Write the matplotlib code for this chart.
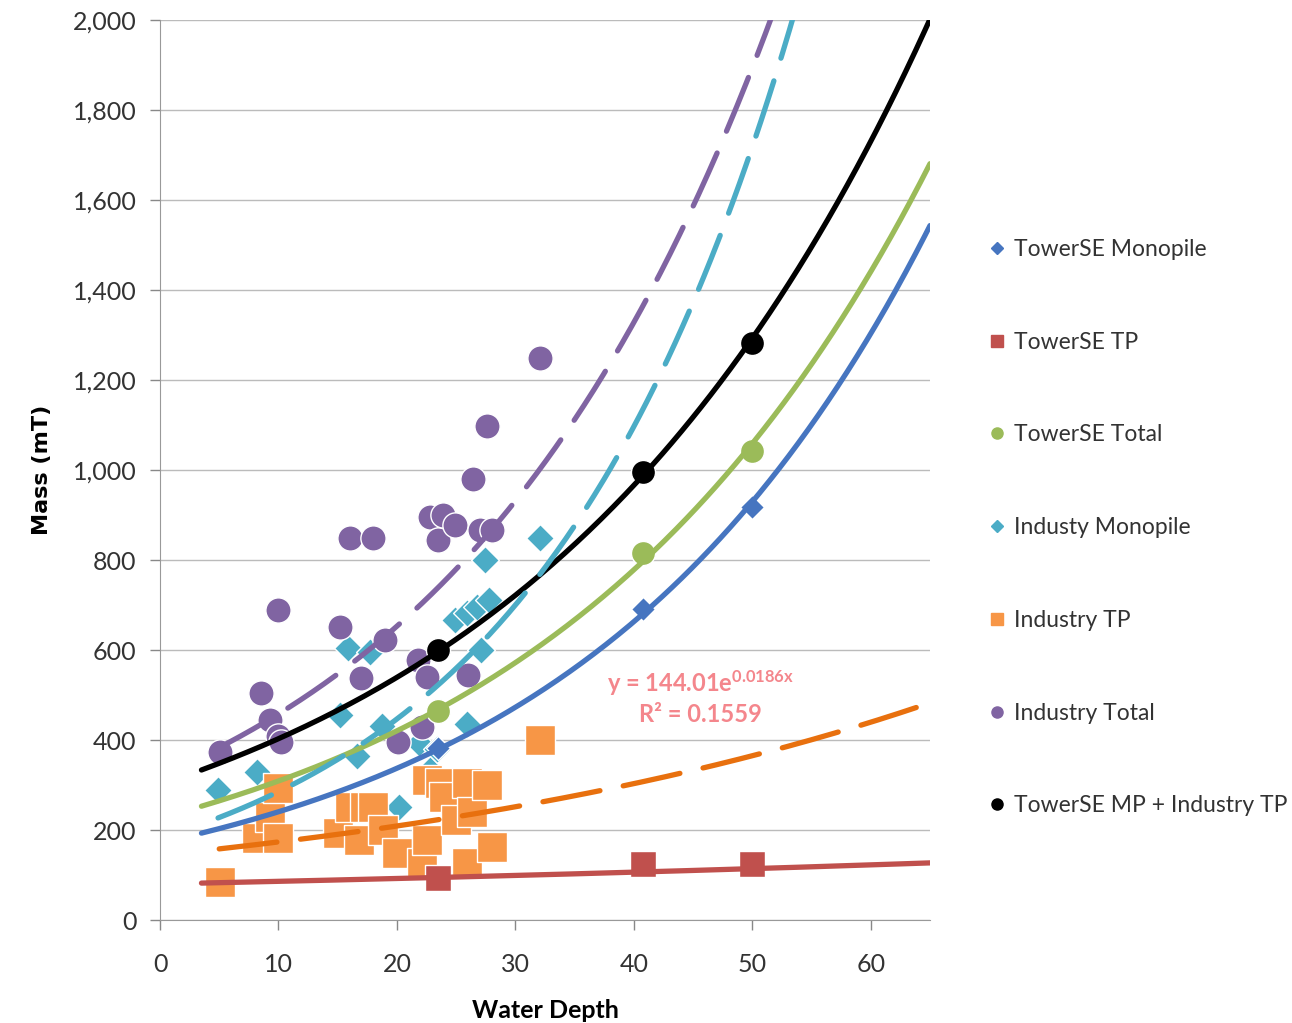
import numpy as np
import matplotlib
matplotlib.use('Agg')
import matplotlib.pyplot as plt
from matplotlib.ticker import FuncFormatter

plt.rcParams['font.family'] = ['Lato', 'DejaVu Sans']
plt.rcParams['mathtext.fontset'] = 'custom'
plt.rcParams['mathtext.rm'] = 'Lato'
plt.rcParams['mathtext.default'] = 'regular'

# TowerSE model results
towerse_depth = [23.5, 40.8, 50.0]
towerse_mp = [382, 691, 918]
towerse_tp = [93, 124, 124]
towerse_total = [464, 816, 1042]
towerse_mp_ind_tp = [600, 996, 1282]

# industry data
ind_mp_depth = [4.9, 8.2, 15.2, 15.9, 16.6, 17.7, 18.7, 20.2, 21.9, 22.8,
                23.4, 24.9, 25.9, 25.9, 26.8, 27.1, 27.4, 27.8, 32.1]
ind_mp_mass = [289, 330, 456, 605, 365, 596, 431, 251, 393, 333,
               380, 667, 682, 435, 696, 600, 800, 711, 849]

ind_tp_depth = [5.1, 8.2, 9.3, 10.0, 10.0, 15.0, 16.0, 16.8, 17.3, 18.0,
                18.8, 20.0, 22.1, 22.5, 22.5, 23.6, 24.0, 25.0, 25.9, 25.9,
                26.3, 27.6, 28.0, 32.1]
ind_tp_mass = [84, 182, 229, 293, 182, 193, 251, 178, 251, 251,
               200, 149, 127, 178, 311, 304, 273, 222, 304, 127,
               240, 300, 162, 400]

ind_total_depth = [5.1, 8.5, 9.3, 10.0, 10.2, 10.0, 15.2, 16.0, 18.0, 17.0,
                   19.0, 20.1, 21.8, 22.1, 22.5, 22.8, 23.5, 23.9, 24.9, 26.0,
                   26.4, 27.0, 27.6, 28.0, 32.1]
ind_total_mass = [373, 504, 444, 410, 395, 689, 651, 849, 849, 538,
                  622, 396, 578, 429, 540, 896, 844, 900, 878, 544,
                  980, 867, 1098, 867, 1249]

# exponential trendlines y = a*exp(b*x): (a, b, x_start, x_end)
trend_towerse_mp = (171.5, 0.0338, 3.5, 65)
trend_towerse_tp = (80.0, 0.0071, 3.5, 65)
trend_towerse_total = (227.0, 0.0308, 3.5, 65)
trend_mp_ind_tp = (301.0, 0.02915, 3.5, 65)
trend_ind_mp = (182.0, 0.0449, 4.9, 65)
trend_ind_tp = (144.01, 0.0186, 5.0, 65)
trend_ind_total = (321.0, 0.0355, 4.8, 65)

C_BLUE = '#4675C0'
C_RED = '#C0504D'
C_GREEN = '#9BBB59'
C_CYAN = '#4BACC6'
C_ORANGE = '#F79646'
C_ORANGE_DARK = '#E8700E'
C_PURPLE = '#8064A2'

fig = plt.figure(figsize=(12.92, 10.23), dpi=100)
ax = fig.add_axes([160 / 1292, 1 - 920 / 1023, 770 / 1292, 900 / 1023])

ax.scatter(ind_mp_depth, ind_mp_mass, marker='D', s=200, color=C_CYAN,
           edgecolors='white', linewidths=1, zorder=3)
ax.scatter(ind_tp_depth, ind_tp_mass, marker='s', s=440, color=C_ORANGE,
           edgecolors='white', linewidths=1, zorder=3)
ax.scatter(ind_total_depth, ind_total_mass, marker='o', s=330, color=C_PURPLE,
           edgecolors='white', linewidths=1, zorder=3)

ax.scatter(towerse_depth, towerse_mp, marker='D', s=150, color=C_BLUE,
           edgecolors='white', linewidths=1, zorder=4)
ax.scatter(towerse_depth, towerse_tp, marker='s', s=330, color=C_RED,
           edgecolors='white', linewidths=1, zorder=4)
ax.scatter(towerse_depth, towerse_total, marker='o', s=300, color=C_GREEN,
           edgecolors='white', linewidths=1, zorder=4)
ax.scatter(towerse_depth, towerse_mp_ind_tp, marker='o', s=300, color='black',
           edgecolors='white', linewidths=1, zorder=4)


def trend(params):
    a, b, x0, x1 = params
    xs = np.linspace(x0, x1, 300)
    return xs, a * np.exp(b * xs)


for params, col in [(trend_towerse_tp, C_RED), (trend_towerse_mp, C_BLUE),
                    (trend_towerse_total, C_GREEN), (trend_mp_ind_tp, 'black')]:
    xs, ys = trend(params)
    ax.plot(xs, ys, color=col, lw=3.8, solid_capstyle='round', zorder=5)

for params, col in [(trend_ind_tp, C_ORANGE_DARK), (trend_ind_mp, C_CYAN),
                    (trend_ind_total, C_PURPLE)]:
    xs, ys = trend(params)
    ax.plot(xs, ys, color=col, lw=3.8, dashes=(11, 4.5), dash_capstyle='round',
            zorder=5)

ax.text(45.6, 527, 'y = 144.01e$^{0.0186x}$', color='#F4868C', fontsize=17,
        fontweight='bold', ha='center', va='center', zorder=6)
ax.text(45.6, 456, 'R² = 0.1559', color='#F4868C', fontsize=17,
        fontweight='bold', ha='center', va='center', zorder=6)

ax.set_xlim(0, 65)
ax.set_ylim(0, 2000)
ax.set_xticks(range(0, 61, 10))
ax.set_yticks(range(0, 2001, 200))
ax.yaxis.set_major_formatter(FuncFormatter(lambda v, p: f'{int(v):,}'))
ax.tick_params(axis='both', labelsize=18, colors='#888888', labelcolor='#333333',
               length=7, width=1)
ax.tick_params(axis='x', pad=17)
ax.tick_params(axis='y', pad=10)
ax.grid(axis='y', color='#BBBBBB', lw=1)
ax.set_axisbelow(True)
for s in ['top', 'right']:
    ax.spines[s].set_visible(False)
for s in ['left', 'bottom']:
    ax.spines[s].set_color('#999999')

ax.set_xlabel('Water Depth', fontsize=18, fontweight='bold', labelpad=16)
ax.set_ylabel('Mass (mT)', fontsize=16, fontweight='bold',
              family=['Liberation Sans Narrow', 'DejaVu Sans'], labelpad=15)

handles = [
    plt.Line2D([], [], ls='', marker='D', ms=6, color=C_BLUE),
    plt.Line2D([], [], ls='', marker='s', ms=8, color=C_RED),
    plt.Line2D([], [], ls='', marker='o', ms=8, color=C_GREEN),
    plt.Line2D([], [], ls='', marker='D', ms=6, color=C_CYAN),
    plt.Line2D([], [], ls='', marker='s', ms=8, color=C_ORANGE),
    plt.Line2D([], [], ls='', marker='o', ms=8, color=C_PURPLE),
    plt.Line2D([], [], ls='', marker='o', ms=8, color='black'),
]
labels = ['TowerSE Monopile', 'TowerSE TP', 'TowerSE Total', 'Industy Monopile',
          'Industry TP', 'Industry Total', 'TowerSE MP + Industry TP']
fig.legend(handles, labels, loc='upper left', bbox_to_anchor=(990 / 1292, 1 - 239 / 1023),
           frameon=False, fontsize=16.5, labelspacing=3.13, handlelength=0.6,
           handletextpad=0.45, labelcolor='#333333', borderaxespad=0, borderpad=0)

fig.savefig('out.png', dpi=100)
